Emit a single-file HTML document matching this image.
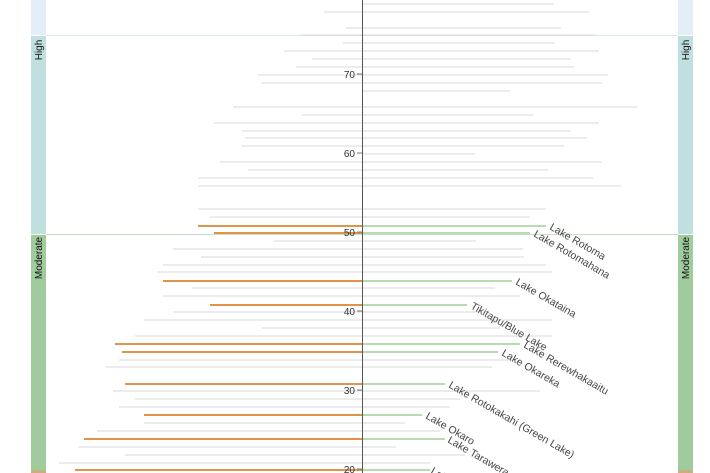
<!DOCTYPE html>
<html><head><meta charset="utf-8"><style>
html,body{margin:0;padding:0;background:#fff;}
svg{display:block;font-family:"Liberation Sans",sans-serif;}
</style></head><body>
<svg width="710" height="473" viewBox="0 0 710 473">
<rect x="31" y="0" width="15" height="35" fill="#e3eef8"/>
<rect x="31" y="36" width="15" height="198" fill="#c0e0df"/>
<rect x="31" y="235" width="15" height="235" fill="#9fcb9d"/>
<rect x="31" y="470" width="15" height="3" fill="#c8b080"/>
<rect x="678" y="0" width="15" height="35" fill="#e3eef8"/>
<rect x="678" y="36" width="15" height="198" fill="#c0e0df"/>
<rect x="678" y="235" width="15" height="235" fill="#9fcb9d"/>
<rect x="678" y="470" width="15" height="3" fill="#c8b080"/>
<line x1="46" y1="35.5" x2="678" y2="35.5" stroke="#d4ecec" stroke-width="1"/>
<line x1="46" y1="234.5" x2="678" y2="234.5" stroke="#c4e0c2" stroke-width="1"/>
<g font-size="10" fill="#111">
<text transform="translate(42,50) rotate(-90)" text-anchor="middle">High</text>
<text transform="translate(689,50) rotate(-90)" text-anchor="middle">High</text>
<text transform="translate(42,258) rotate(-90)" text-anchor="middle">Moderate</text>
<text transform="translate(689,258) rotate(-90)" text-anchor="middle">Moderate</text>
</g>
<g stroke="#d8d8d8" stroke-width="1">
<line x1="362" y1="4" x2="554" y2="4"/>
<line x1="324" y1="12" x2="589" y2="12"/>
<line x1="346" y1="28" x2="561" y2="28"/>
<line x1="300" y1="35" x2="596" y2="35"/>
<line x1="343" y1="43" x2="555" y2="43"/>
<line x1="284" y1="51" x2="599" y2="51"/>
<line x1="312" y1="59" x2="571" y2="59"/>
<line x1="296" y1="67" x2="574" y2="67"/>
<line x1="258" y1="75" x2="608" y2="75"/>
<line x1="261" y1="83" x2="602" y2="83"/>
<line x1="362" y1="91" x2="510" y2="91"/>
<line x1="233" y1="107" x2="637" y2="107"/>
<line x1="302" y1="115" x2="533" y2="115"/>
<line x1="214" y1="123" x2="599" y2="123"/>
<line x1="242" y1="131" x2="571" y2="131"/>
<line x1="245" y1="138" x2="587" y2="138"/>
<line x1="242" y1="146" x2="564" y2="146"/>
<line x1="362" y1="154" x2="475" y2="154"/>
<line x1="220" y1="162" x2="602" y2="162"/>
<line x1="248" y1="170" x2="548" y2="170"/>
<line x1="198" y1="178" x2="593" y2="178"/>
<line x1="198" y1="186" x2="621" y2="186"/>
<line x1="198" y1="209" x2="546" y2="209"/>
<line x1="210" y1="217" x2="530" y2="217"/>
<line x1="274" y1="241" x2="476" y2="241"/>
<line x1="173" y1="249" x2="523" y2="249"/>
<line x1="201" y1="257" x2="524" y2="257"/>
<line x1="163" y1="265" x2="546" y2="265"/>
<line x1="157" y1="272" x2="552" y2="272"/>
<line x1="192" y1="288" x2="495" y2="288"/>
<line x1="163" y1="296" x2="520" y2="296"/>
<line x1="173" y1="312" x2="480" y2="312"/>
<line x1="144" y1="320" x2="552" y2="320"/>
<line x1="262" y1="328" x2="500" y2="328"/>
<line x1="135" y1="336" x2="552" y2="336"/>
<line x1="119" y1="360" x2="510" y2="360"/>
<line x1="106" y1="367" x2="492" y2="367"/>
<line x1="113" y1="391" x2="540" y2="391"/>
<line x1="135" y1="399" x2="460" y2="399"/>
<line x1="119" y1="407" x2="450" y2="407"/>
<line x1="144" y1="423" x2="405" y2="423"/>
<line x1="97" y1="431" x2="440" y2="431"/>
<line x1="78" y1="447" x2="396" y2="447"/>
<line x1="125" y1="455" x2="465" y2="455"/>
<line x1="59" y1="463" x2="430" y2="463"/>
</g>
<g stroke-width="2">
<g stroke="#e0944a">
<line x1="198" y1="226" x2="362" y2="226"/>
<line x1="214" y1="233" x2="362" y2="233"/>
<line x1="163" y1="281" x2="362" y2="281"/>
<line x1="210" y1="305" x2="362" y2="305"/>
<line x1="115" y1="344" x2="362" y2="344"/>
<line x1="122" y1="352" x2="362" y2="352"/>
<line x1="125" y1="384" x2="362" y2="384"/>
<line x1="144" y1="415" x2="362" y2="415"/>
<line x1="84" y1="439" x2="362" y2="439"/>
<line x1="75" y1="470" x2="362" y2="470"/>
</g>
<g stroke="#b9dbb0">
<line x1="362" y1="226" x2="546" y2="226"/>
<line x1="362" y1="233" x2="530" y2="233"/>
<line x1="362" y1="281" x2="512" y2="281"/>
<line x1="362" y1="305" x2="467" y2="305"/>
<line x1="362" y1="344" x2="520" y2="344"/>
<line x1="362" y1="352" x2="498" y2="352"/>
<line x1="362" y1="384" x2="445" y2="384"/>
<line x1="362" y1="415" x2="422" y2="415"/>
<line x1="362" y1="439" x2="445" y2="439"/>
<line x1="362" y1="470" x2="430" y2="470"/>
</g>
</g>
<line x1="362.5" y1="0" x2="362.5" y2="473" stroke="#555" stroke-width="1"/>
<g stroke="#777">
<line x1="357" y1="74" x2="362" y2="74"/><line x1="357" y1="153" x2="362" y2="153"/>
<line x1="357" y1="232" x2="362" y2="232"/><line x1="357" y1="311" x2="362" y2="311"/>
<line x1="357" y1="390" x2="362" y2="390"/><line x1="357" y1="469" x2="362" y2="469"/>
</g>
<g font-size="10" fill="#333" text-anchor="end">
<text x="355" y="78">70</text><text x="355" y="157">60</text><text x="355" y="236">50</text>
<text x="355" y="315">40</text><text x="355" y="394">30</text><text x="355" y="473">20</text>
</g>
<g font-size="10.5" fill="#444">
<text transform="translate(549,229) rotate(30)">Lake Rotoma</text>
<text transform="translate(533,236) rotate(30)">Lake Rotomahana</text>
<text transform="translate(515,284) rotate(30)">Lake Okataina</text>
<text transform="translate(470,308) rotate(30)">Tikitapu/Blue Lake</text>
<text transform="translate(523,347) rotate(30)">Lake Rerewhakaaitu</text>
<text transform="translate(501,355) rotate(30)">Lake Okareka</text>
<text transform="translate(448,387) rotate(30)">Lake Rotokakahi (Green Lake)</text>
<text transform="translate(425,418) rotate(30)">Lake Okaro</text>
<text transform="translate(447,442) rotate(30)">Lake Tarawera</text>
<text transform="translate(430,473) rotate(30)">Lake</text>
</g>
</svg>
</body></html>
